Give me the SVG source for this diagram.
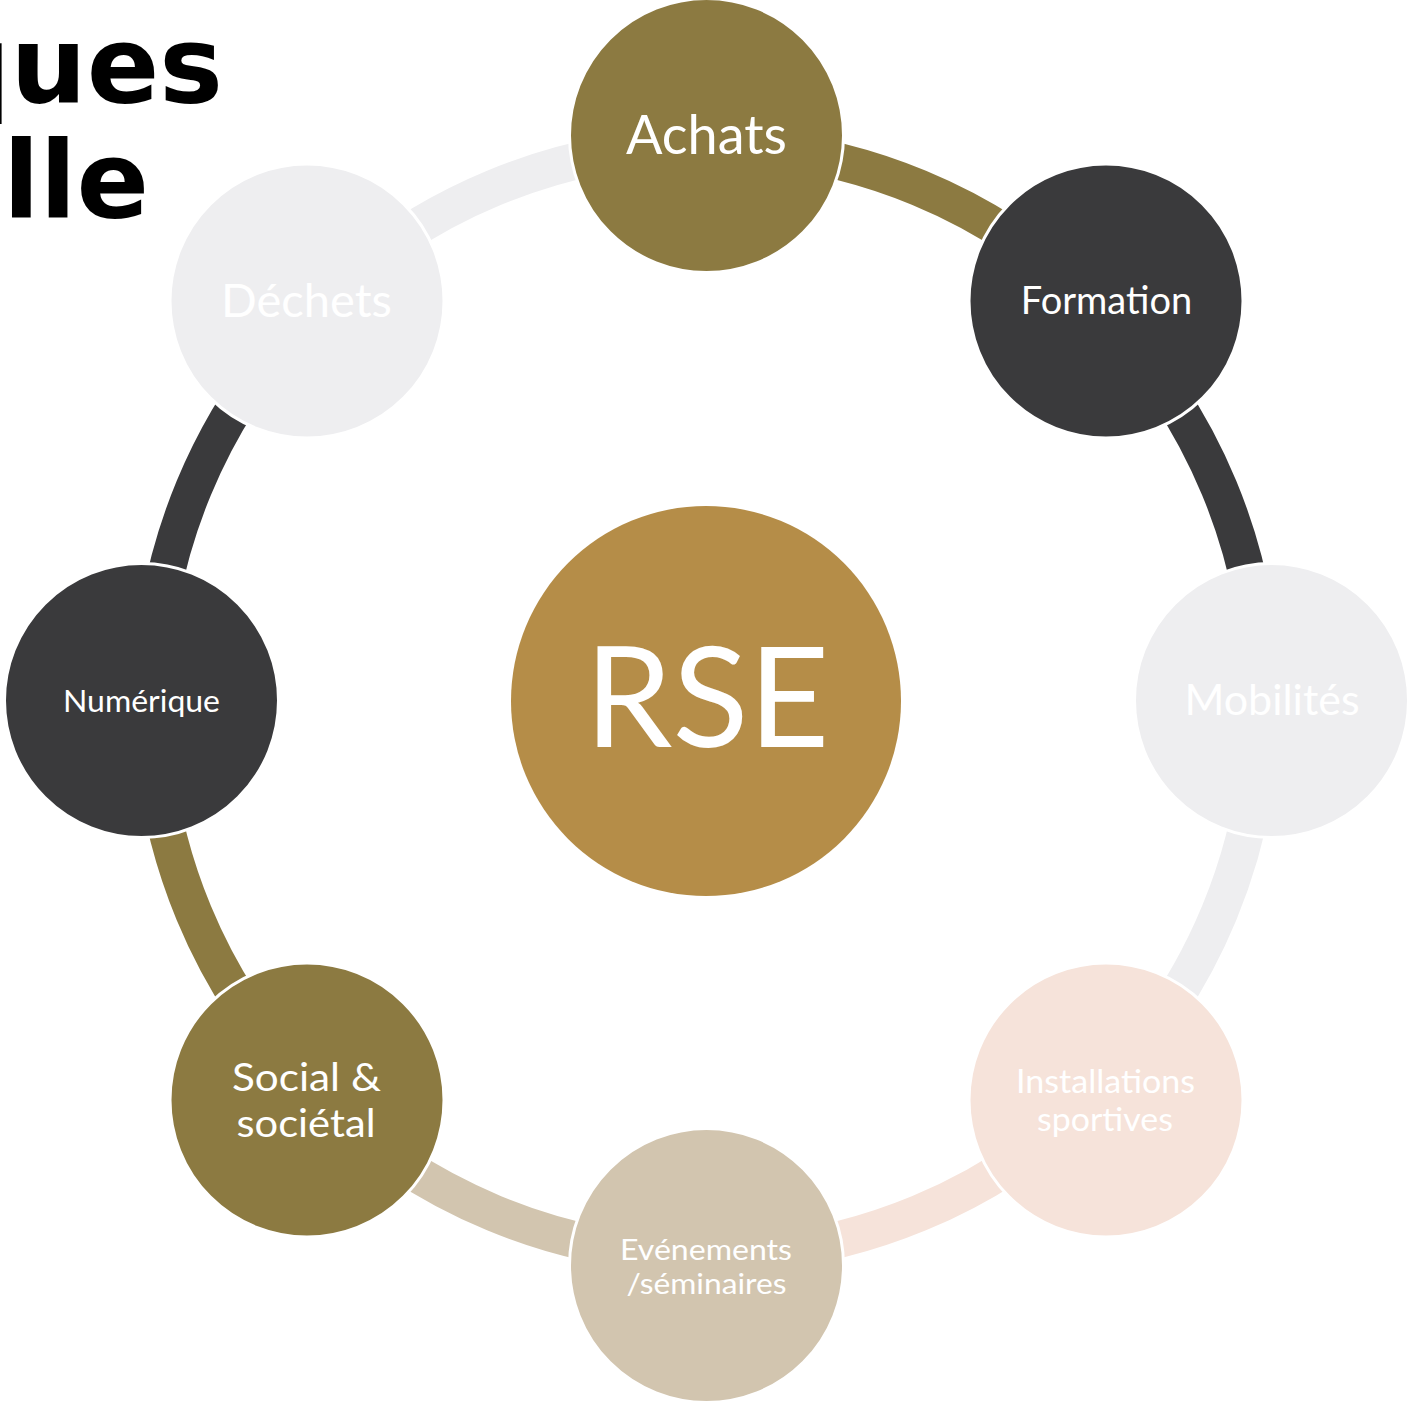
<svg xmlns="http://www.w3.org/2000/svg" width="1409" height="1403" viewBox="0 0 1409 1403">
<style>
.lbl{font-family:Lato,"Liberation Sans",sans-serif;fill:#FFFFFF;text-anchor:middle;}
.node{stroke:#FFFFFF;stroke-width:3;}
.arc{fill:none;stroke-width:37;}
.title{font-family:"DejaVu Sans",sans-serif;font-weight:bold;font-size:107px;fill:#000000;text-anchor:end;}
.olive{fill:#8C7A41;}
.dark{fill:#3A3A3C;}
.light{fill:#EEEEF0;}
.pink{fill:#F6E3DA;}
.beige{fill:#D2C5AF;}
</style>
<rect width="1409" height="1403" fill="#FFFFFF"/>
<g id="title">
<text class="title" x="223" y="102">ques</text>
<text class="title" x="149" y="217">lle</text>
</g>
<g id="connectors">
<path class="arc" stroke="#8C7A41" d="M706.5 145.5 A555 555 0 0 1 1098.94 308.06"/>
<path class="arc" stroke="#3A3A3C" d="M1098.94 308.06 A555 555 0 0 1 1261.5 700.5"/>
<path class="arc" stroke="#EEEEF0" d="M1261.5 700.5 A555 555 0 0 1 1098.94 1092.94"/>
<path class="arc" stroke="#F6E3DA" d="M1098.94 1092.94 A555 555 0 0 1 706.5 1255.5"/>
<path class="arc" stroke="#D2C5AF" d="M706.5 1255.5 A555 555 0 0 1 314.06 1092.94"/>
<path class="arc" stroke="#8C7A41" d="M314.06 1092.94 A555 555 0 0 1 151.5 700.5"/>
<path class="arc" stroke="#3A3A3C" d="M151.5 700.5 A555 555 0 0 1 314.06 308.06"/>
<path class="arc" stroke="#EEEEF0" d="M314.06 308.06 A555 555 0 0 1 706.5 145.5"/>
</g>
<g id="rse">
<circle cx="706" cy="701" r="195" fill="#B58D48"/>
<text class="lbl" x="707" y="747" font-size="140">RSE</text>
</g>
<g id="achats">
<circle class="node olive" cx="706.5" cy="135.5" r="137"/>
<text class="lbl" x="706.5" y="154" font-size="54">Achats</text>
</g>
<g id="formation">
<circle class="node dark" cx="1106" cy="301" r="137"/>
<text class="lbl" x="1106.5" y="314" font-size="38">Formation</text>
</g>
<g id="mobilites">
<circle class="node light" cx="1271.5" cy="700.5" r="137"/>
<text class="lbl" x="1272" y="715" font-size="43">Mobilités</text>
</g>
<g id="installations">
<circle class="node pink" cx="1106" cy="1100" r="137"/>
<text class="lbl" x="1105.5" y="1093" font-size="33" textLength="179" lengthAdjust="spacingAndGlyphs">Installations</text>
<text class="lbl" x="1105" y="1131" font-size="33" textLength="136" lengthAdjust="spacingAndGlyphs">sportives</text>
</g>
<g id="evenements">
<circle class="node beige" cx="706.5" cy="1265.5" r="137"/>
<text class="lbl" x="706" y="1260" font-size="29" textLength="172" lengthAdjust="spacingAndGlyphs">Evénements</text>
<text class="lbl" x="706.5" y="1293.5" font-size="29" textLength="160" lengthAdjust="spacingAndGlyphs">/séminaires</text>
</g>
<g id="social">
<circle class="node olive" cx="307" cy="1100" r="137"/>
<text class="lbl" x="306.5" y="1090.5" font-size="39" textLength="149" lengthAdjust="spacingAndGlyphs">Social &amp;</text>
<text class="lbl" x="306" y="1137" font-size="39" textLength="139" lengthAdjust="spacingAndGlyphs">sociétal</text>
</g>
<g id="numerique">
<circle class="node dark" cx="141.5" cy="700.5" r="137"/>
<text class="lbl" x="141.5" y="712" font-size="31" textLength="157" lengthAdjust="spacingAndGlyphs">Numérique</text>
</g>
<g id="dechets">
<circle class="node light" cx="307" cy="301" r="137"/>
<text class="lbl" x="306.5" y="317" font-size="47" textLength="171" lengthAdjust="spacingAndGlyphs">Déchets</text>
</g>
</svg>
